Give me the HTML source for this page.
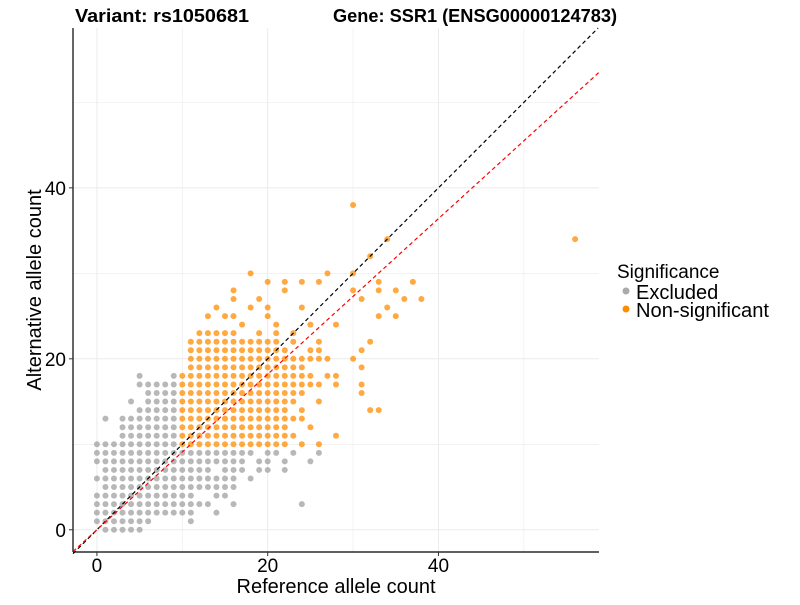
<!DOCTYPE html>
<html><head><meta charset="utf-8"><style>
body{margin:0;background:#fff;}
svg text{font-family:"Liberation Sans",Arial,sans-serif;}
</style></head><body>
<svg id="chart" width="800" height="600" xmlns="http://www.w3.org/2000/svg">
<text x="75" y="22" font-size="18" font-weight="bold" textLength="174" lengthAdjust="spacingAndGlyphs">Variant: rs1050681</text>
<text x="333" y="22" font-size="18" font-weight="bold" textLength="284" lengthAdjust="spacingAndGlyphs">Gene: SSR1 (ENSG00000124783)</text>
<g id="grid"></g>
<g id="lines"></g>
<g id="pts"></g>
<g id="axes"></g>
<text x="336" y="593" font-size="20" text-anchor="middle" textLength="199" lengthAdjust="spacingAndGlyphs">Reference allele count</text>
<text transform="translate(41,290) rotate(-90)" font-size="20" text-anchor="middle">Alternative allele count</text>
<g>
<text x="617" y="278" font-size="19">Significance</text>
<circle cx="626" cy="291" r="3.5" fill="#aaaaaa"/>
<text x="636" y="299" font-size="20">Excluded</text>
<circle cx="626" cy="309" r="3.5" fill="#ff8c00"/>
<text x="636" y="317" font-size="20" textLength="133" lengthAdjust="spacingAndGlyphs">Non-significant</text>
</g>
</svg>
<script>
// alt count -> list of ref counts
const greyRows = {
0:[1,2,3,4,5],1:[0,1,2,3,4,5,6,11],2:[0,1,2,3,4,5,6,7,8,9,10,11,14],
3:[0,1,2,3,4,5,6,7,8,9,10,11,12,13,16,24],4:[0,1,2,3,4,5,6,7,8,9,10,11,14,15],
5:[1,2,3,4,5,6,7,8,9,10,11,12,13,14,15,16],6:[0,1,2,3,4,5,6,7,8,9,10,11,12,13,14,15,16,18],
7:[1,2,3,4,5,6,7,8,9,10,11,12,13,15,16,17,19,20,22],8:[0,1,2,3,4,5,6,7,8,9,10,11,12,13,14,15,16,17,19,20,22,25],
9:[0,1,2,3,4,5,6,7,8,9,10,11,12,13,14,15,16,17,18,20,21,23,26],10:[0,1,2,3,4,5,6,7,8,9],
11:[3,4,5,6,7,8,9],12:[3,4,5,6,7,8,9],13:[1,3,4,5,6,7,8,9],14:[5,6,7,8,9],15:[4,6,7,8,9],
16:[6,7,8,9],17:[5,6,7,8,9],18:[5,9]
};
const orangeRows = {
10:[10,11,12,13,14,15,16,17,18,19,20,21,22,24,26],11:[10,11,12,13,14,15,16,17,18,19,20,21,22,23,28],
12:[10,11,12,13,14,15,16,17,18,19,20,21,22,25],13:[10,11,12,13,14,15,16,17,18,19,20,21,22,23,24],
14:[10,11,12,13,14,15,16,17,18,19,20,21,22,24,32,33],15:[10,11,12,13,14,15,16,17,18,19,20,21,22,23,26],
16:[10,11,12,13,14,15,16,17,18,19,20,21,22,23,24,31],17:[10,11,12,13,14,15,16,17,18,19,20,21,22,23,24,25,26,28,31],
18:[10,11,12,13,14,15,16,17,18,19,20,21,22,23,24,25,27,28],19:[11,12,13,14,15,16,17,18,19,20,21,22,23,24,31],
20:[11,12,13,14,15,16,17,18,19,20,21,22,23,24,25,26,27,30],21:[11,12,13,14,15,16,17,18,19,20,21,22,25,26,31],
22:[11,12,13,14,15,16,17,18,19,20,21,23,26,32],23:[12,13,14,15,16,19,21,23],
24:[17,21,25,28],25:[13,15,16,20,33,35],26:[14,18,20,24,34],27:[16,19,31,36,38],
28:[16,22,30,33,35],29:[20,22,24,26,33,37],30:[18,27,30],32:[32],34:[34,56],38:[30]
};
const xTicks=[0,20,40], yTicks=[0,20,40], minorTicks=[10,30,50];
const redSlope=0.91;
const X0=73,X1=599,Y0=552,Y1=28, xmin=-2.8,xmax=58.8,ymin=-2.6,ymax=58.7;
const sx=v=>X0+(v-xmin)/(xmax-xmin)*(X1-X0);
const sy=v=>Y0-(v-ymin)/(ymax-ymin)*(Y0-Y1);
const NS='http://www.w3.org/2000/svg';
function mk(tag,attrs,parent){const e=document.createElementNS(NS,tag);for(const k in attrs)e.setAttribute(k,attrs[k]);parent.appendChild(e);return e;}
const grid=document.getElementById('grid');
[...xTicks,...minorTicks].forEach(v=>{const l=mk('line',{x1:sx(v),x2:sx(v),y1:Y1,y2:Y0,stroke:'#ebebeb','stroke-width':xTicks.includes(v)?1:0.6},grid);

});
[...yTicks,...minorTicks].forEach(v=>{const l=mk('line',{x1:X0,x2:X1,y1:sy(v),y2:sy(v),stroke:'#ebebeb','stroke-width':yTicks.includes(v)?1:0.6},grid);

});
const pts=document.getElementById('pts');
function draw(rows,color,name){for(const a in rows){rows[a].forEach(r=>{const c=mk('circle',{cx:sx(r),cy:sy(+a),r:3,fill:color,'fill-opacity':0.75},pts);

});}}
draw(greyRows,'#a0a0a0','excluded-point');
draw(orangeRows,'#ff8c00','nonsignificant-point');
const lines=document.getElementById('lines');
const bl=mk('line',{x1:sx(xmin),y1:sy(xmin),x2:sx(ymax),y2:sy(ymax),stroke:'#000','stroke-width':1.2,'stroke-dasharray':'4,3'},lines);


const rl=mk('line',{x1:sx(xmin),y1:sy(xmin*redSlope),x2:sx(xmax),y2:sy(xmax*redSlope),stroke:'#ff0000','stroke-width':1.2,'stroke-dasharray':'4,3'},lines);


document.getElementById('chart').appendChild(lines);
const axes=document.getElementById('axes');
mk('line',{x1:X0,x2:X0,y1:Y1,y2:Y0,stroke:'#000','stroke-width':1.2},axes);
mk('line',{x1:X0,x2:X1,y1:Y0,y2:Y0,stroke:'#000','stroke-width':1.2},axes);
xTicks.forEach(v=>{mk('line',{x1:sx(v),x2:sx(v),y1:Y0,y2:Y0+4,stroke:'#333'},axes);
const t=mk('text',{x:sx(v),y:Y0+20,'font-size':19,'text-anchor':'middle',fill:'#000'},axes);t.textContent=v;

});
yTicks.forEach(v=>{mk('line',{x1:X0-4,x2:X0,y1:sy(v),y2:sy(v),stroke:'#333'},axes);
const t=mk('text',{x:X0-7,y:sy(v)+7,'font-size':19,'text-anchor':'end',fill:'#000'},axes);t.textContent=v;

});
</script>
</body></html>
